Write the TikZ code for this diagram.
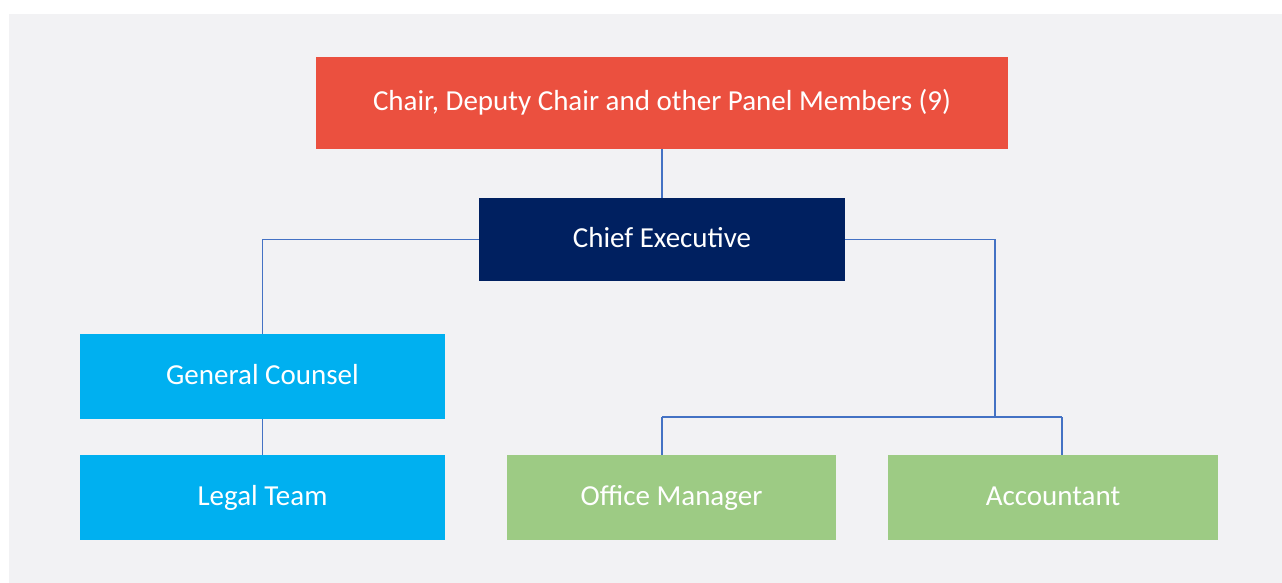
\documentclass[tikz,border=0pt]{standalone}
\usepackage{fontspec}
\setmainfont{Carlito}
\definecolor{bg}{HTML}{F2F2F4}
\definecolor{redbox}{HTML}{EB503F}
\definecolor{navy}{HTML}{002060}
\definecolor{cyanbox}{HTML}{00B0F0}
\definecolor{greenbox}{HTML}{9DCB84}
\definecolor{conn}{HTML}{4472C4}
\begin{document}
\begin{tikzpicture}[x=1pt,y=-1pt,
  box/.style={rectangle, inner sep=0pt, text=white, text height=20pt, text depth=5pt, font=\fontsize{29}{34}\selectfont},
  link/.style={draw=conn, line width=1.3pt}]
\useasboundingbox (0,0) rectangle (1282,583);
\fill[bg] (9,14) rectangle (1282,583);
\node[box, fill=redbox, minimum width=692pt, minimum height=92pt] (red) at (662,103) {Chair, Deputy Chair and other Panel Members (9)};
\node[box, fill=navy, minimum width=366pt, minimum height=83pt] (ce) at (662,239.5) {Chief Executive};
\node[box, fill=cyanbox, minimum width=365pt, minimum height=85pt] (gc) at (262.5,376.5) {General Counsel};
\node[box, fill=cyanbox, minimum width=365pt, minimum height=85pt] (lt) at (262.5,497.5) {Legal Team};
\node[box, fill=greenbox, minimum width=329pt, minimum height=85pt] (om) at (671.5,497.5) {Office Manager};
\node[box, fill=greenbox, minimum width=330pt, minimum height=85pt] (acc) at (1053,497.5) {Accountant};
\coordinate (jr) at (995,417);
\coordinate (bl) at (662,417);
\coordinate (br) at (1062,417);
\draw[link] (red.south) -- (ce.north);
\draw[link] (ce.west) -| (gc.north);
\draw[link] (gc.south) -- (lt.north);
\draw[link] (ce.east) -| (jr);
\draw[link] (bl) -- (br);
\draw[link] (bl) -- (bl |- om.north);
\draw[link] (br) -- (br |- acc.north);
\end{tikzpicture}
\end{document}
